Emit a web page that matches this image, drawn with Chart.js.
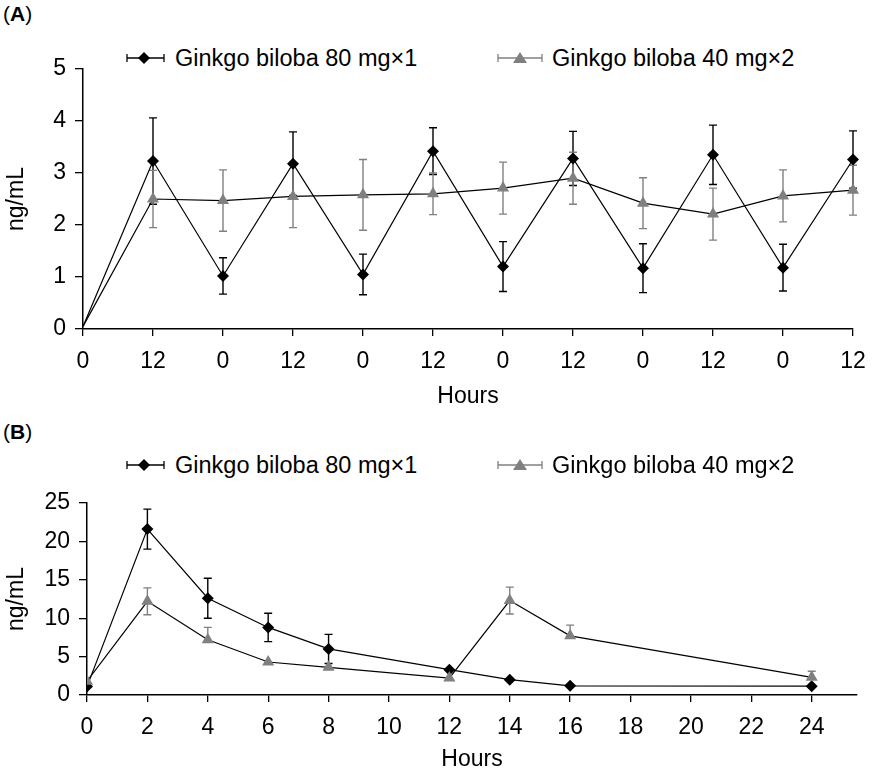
<!DOCTYPE html>
<html>
<head>
<meta charset="utf-8">
<script src="https://cdn.jsdelivr.net/npm/chart.js@4.4.1/dist/chart.umd.min.js"></script>
<style>
  body { margin: 0; background: #fff; font-family: "Liberation Sans", Arial, sans-serif; color: #000; }
  #wrap { position: relative; width: 880px; height: 773px; overflow: hidden; }
  canvas { position: absolute; left: 0; }
  .panel { position: absolute; left: 3px; font-size: 21px; }
  .leg { position: absolute; height: 30px; display: flex; align-items: center; font-size: 23.5px; white-space: nowrap; }
  .leg svg { margin-right: 9px; }
</style>
</head>
<body>
<div id="wrap">
  <div class="panel" style="top:2px">(<b>A</b>)</div>
  <div class="leg" style="left:126px; top:43px">
    <svg width="40" height="14"><line x1="1" y1="7" x2="38" y2="7" stroke="#000" stroke-width="1.3"/><line x1="1" y1="3" x2="1" y2="11" stroke="#000" stroke-width="1.3"/><line x1="38" y1="3" x2="38" y2="11" stroke="#000" stroke-width="1.3"/><polygon points="18,1 24,7 18,13 12,7" fill="#000"/></svg>Ginkgo biloba 80 mg×1
  </div>
  <div class="leg" style="left:497px; top:43px">
    <svg width="46" height="14"><line x1="1" y1="7" x2="45" y2="7" stroke="#808080" stroke-width="1.3"/><line x1="1" y1="3" x2="1" y2="11" stroke="#808080" stroke-width="1.3"/><line x1="45" y1="3" x2="45" y2="11" stroke="#808080" stroke-width="1.3"/><polygon points="23,1 30,12 16,12" fill="#808080"/></svg>Ginkgo biloba 40 mg×2
  </div>
  <canvas id="chartA" width="880" height="420" style="top:0"></canvas>

  <div class="panel" style="top:420px">(<b>B</b>)</div>
  <div class="leg" style="left:126px; top:450px">
    <svg width="40" height="14"><line x1="1" y1="7" x2="38" y2="7" stroke="#000" stroke-width="1.3"/><line x1="1" y1="3" x2="1" y2="11" stroke="#000" stroke-width="1.3"/><line x1="38" y1="3" x2="38" y2="11" stroke="#000" stroke-width="1.3"/><polygon points="18,1 24,7 18,13 12,7" fill="#000"/></svg>Ginkgo biloba 80 mg×1
  </div>
  <div class="leg" style="left:497px; top:450px">
    <svg width="46" height="14"><line x1="1" y1="7" x2="45" y2="7" stroke="#808080" stroke-width="1.3"/><line x1="1" y1="3" x2="1" y2="11" stroke="#808080" stroke-width="1.3"/><line x1="45" y1="3" x2="45" y2="11" stroke="#808080" stroke-width="1.3"/><polygon points="23,1 30,12 16,12" fill="#808080"/></svg>Ginkgo biloba 40 mg×2
  </div>
  <canvas id="chartB" width="880" height="358" style="top:415px"></canvas>
</div>

<script>
// --- panel A: repeated 12 h dosing cycles
const hoursA = ['0', '12', '0', '12', '0', '12', '0', '12', '0', '12', '0', '12'];
const a80 = [0.05, 3.23, 1.02, 3.18, 1.05, 3.42, 1.2, 3.28, 1.17, 3.35, 1.18, 3.26];
const a80Err = [0, 0.83, 0.35, 0.61, 0.39, 0.45, 0.48, 0.52, 0.47, 0.57, 0.45, 0.55];
const a40 = [0.05, 2.5, 2.47, 2.55, 2.58, 2.6, 2.71, 2.9, 2.42, 2.21, 2.56, 2.67];
const a40Err = [0, 0.55, 0.59, 0.6, 0.68, 0.4, 0.5, 0.5, 0.49, 0.5, 0.5, 0.48];
const ticksA = [0, 1, 2, 3, 4, 5];

// --- panel B: single day
const hoursB = [0, 2, 4, 6, 8, 12, 14, 16, 24];
const b80 = [1.1, 21.6, 12.6, 8.8, 6.0, 3.3, 2.0, 1.2, 1.15];
const b80ErrUp = [0, 2.6, 2.6, 1.85, 1.9, 0, 0, 0, 0];
const b80ErrDown = [0, 2.6, 2.6, 1.85, 1.9, 0, 0, 0, 0];
const b40 = [1.8, 12.2, 7.2, 4.3, 3.6, 2.2, 12.3, 7.7, 2.3];
const b40ErrUp = [0, 1.75, 1.6, 0, 0, 0, 1.75, 1.4, 0.8];
const b40ErrDown = [0, 1.75, 0, 0, 0, 0, 1.75, 0, 0];
const ticksB = [0, 5, 10, 15, 20, 25];

const FONT = "'Liberation Sans', Arial, sans-serif";
const GREY = '#808080';

// draws vertical error bars with caps from dataset.errUp / dataset.errDown
const errorBars = {
    id: 'errorBars',
    beforeDatasetsDraw(chart) {
        const ctx = chart.ctx;
        chart.data.datasets.forEach((ds, i) => {
            const meta = chart.getDatasetMeta(i);
            const yScale = chart.scales[meta.yAxisID];
            ctx.save();
            ctx.strokeStyle = ds.errColor;
            ctx.lineWidth = 1.4;
            meta.data.forEach((pt, j) => {
                const v = typeof ds.data[j] === 'object' ? ds.data[j].y : ds.data[j];
                const up = ds.errUp[j] || 0, down = ds.errDown[j] || 0;
                if (!up && !down) return;
                const x = pt.x;
                const yTop = yScale.getPixelForValue(v + up);
                const yBot = yScale.getPixelForValue(v - down);
                ctx.beginPath();
                ctx.moveTo(x, yTop); ctx.lineTo(x, yBot);
                if (up) { ctx.moveTo(x - 4, yTop); ctx.lineTo(x + 4, yTop); }
                if (down) { ctx.moveTo(x - 4, yBot); ctx.lineTo(x + 4, yBot); }
                ctx.stroke();
            });
            ctx.restore();
        });
    }
};

function axisBase() {
    return {
        grid: { drawOnChartArea: false, color: '#000', lineWidth: 1.3, tickLength: 7 },
        border: { color: '#000', width: 1.5 },
        ticks: { color: '#000', font: { family: FONT, size: 23 }, padding: 12, maxRotation: 0, autoSkip: false },
        title: { display: true, text: 'Hours', color: '#000', font: { family: FONT, size: 23 } }
    };
}

function yAxis(ticksList, width) {
    return {
        min: ticksList[0], max: ticksList[ticksList.length - 1],
        afterBuildTicks: s => { s.ticks = ticksList.map(v => ({ value: v })); },
        afterFit: s => { s.width = width; },
        grid: { drawOnChartArea: false, color: '#000', lineWidth: 1.3, tickLength: 8 },
        border: { color: '#000', width: 1.5 },
        ticks: { color: '#000', font: { family: FONT, size: 23 }, padding: 9 },
        title: { display: true, text: 'ng/mL', color: '#000', font: { family: FONT, size: 23 }, padding: { top: 3, bottom: 0 } }
    };
}

const xA = axisBase();
xA.afterFit = s => { s.height = 91; };
xA.title.padding = { top: 0, bottom: 10 };

new Chart(document.getElementById('chartA'), {
    type: 'line',
    data: {
        labels: hoursA,
        datasets: [
            { label: 'Ginkgo biloba 80 mg×1', data: a80, errUp: a80Err, errDown: a80Err, errColor: '#000',
              borderColor: '#000', borderWidth: 1.2, pointStyle: 'rectRot', pointRadius: a80.map((v, i) => i ? 6 : 0),
              pointBackgroundColor: '#000', pointBorderWidth: 0, order: 1 },
            { label: 'Ginkgo biloba 40 mg×2', data: a40, errUp: a40Err, errDown: a40Err, errColor: GREY,
              borderColor: '#000', borderWidth: 1.2, pointStyle: 'triangle', pointRadius: a40.map((v, i) => i ? 7 : 0),
              pointBackgroundColor: GREY, pointBorderWidth: 0, order: 0 }
        ]
    },
    options: {
        responsive: false, animation: false, devicePixelRatio: 1,
        layout: { padding: { top: 69, right: 27, bottom: 0, left: 0 } },
        plugins: { legend: { display: false }, tooltip: { enabled: false } },
        scales: { x: xA, y: yAxis(ticksA, 83) }
    },
    plugins: [errorBars]
});

const xB = axisBase();
xB.type = 'linear';
xB.min = 0; xB.max = 25.5;
xB.ticks.stepSize = 2;
xB.ticks.includeBounds = false;
xB.afterFit = s => { s.height = 78; };
xB.title.padding = { top: 0, bottom: 0 };

new Chart(document.getElementById('chartB'), {
    type: 'line',
    data: {
        datasets: [
            { label: 'Ginkgo biloba 80 mg×1', data: hoursB.map((h, i) => ({ x: h, y: b80[i] })),
              errUp: b80ErrUp, errDown: b80ErrDown, errColor: '#000',
              borderColor: '#000', borderWidth: 1.2, pointStyle: 'rectRot', pointRadius: 6,
              pointBackgroundColor: '#000', pointBorderWidth: 0, order: 1 },
            { label: 'Ginkgo biloba 40 mg×2', data: hoursB.map((h, i) => ({ x: h, y: b40[i] })),
              errUp: b40ErrUp, errDown: b40ErrDown, errColor: GREY,
              borderColor: '#000', borderWidth: 1.2, pointStyle: 'triangle', pointRadius: 7,
              pointBackgroundColor: GREY, pointBorderWidth: 0, order: 0 }
        ]
    },
    options: {
        responsive: false, animation: false, devicePixelRatio: 1,
        layout: { padding: { top: 88, right: 23, bottom: 0, left: 0 } },
        plugins: { legend: { display: false }, tooltip: { enabled: false } },
        scales: { x: xB, y: yAxis(ticksB, 87) }
    },
    plugins: [errorBars]
});
</script>
</body>
</html>
